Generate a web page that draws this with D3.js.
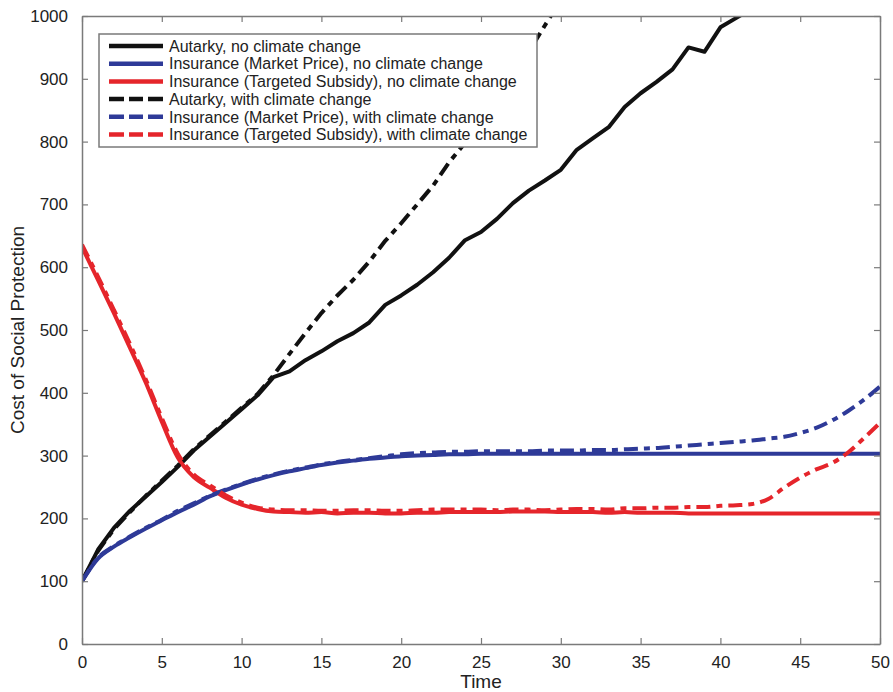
<!DOCTYPE html>
<html>
<head>
<meta charset="utf-8">
<script src="https://cdn.jsdelivr.net/npm/d3@7"></script>
<style>
  body { margin: 0; background: #fff; }
  svg { display: block; font-family: "Liberation Sans", Arial, Helvetica, sans-serif; }
</style>
</head>
<body>
<svg id="chart" width="893" height="692"></svg>
<script>
// ---- data ----
const time = d3.range(0, 51);

const autarkyNoCC = [100,150,185,212,235,258,282,308,330,352,374,396,425,434,452,466,482,495,512,540,555,572,592,615,643,656,677,702,722,738,755,787,805,823,855,877,895,915,950,943,982,997,1012,1030,1050,1070,1090,1110,1130,1150,1170];
const autarkyCC   = [100,148,183,210,236,260,284,310,332,354,376,398,428,462,495,527,555,580,609,642,670,700,730,767,798,830,864,900,943,985,1025,1060,1100,1140,1180,1220,1260,1300,1340,1380,1420,1460,1500,1540,1580,1620,1660,1700,1740,1780,1820];
const insMarketNoCC = [100,136,155,170,184,197,210,222,235,245,254,262,269,275,280,285,289,292,295,297,299,300,301,302,302,303,303,303,303,303,303,303,303,303,303,303,303,303,303,303,303,303,303,303,303,303,303,303,303,303,303];
const insMarketCC   = [100,137,156,171,185,198,212,224,236,246,255,263,270,276,281,286,290,293,296,299,302,304,305,306,306,307,307,307,307,308,308,308,309,309,310,311,312,314,316,318,320,322,324,327,330,336,344,356,371,389,410];
const subsidyNoCC = [632,580,527,472,416,354,297,266,249,233,222,215,211,210,209,210,208,209,209,208,208,209,209,210,210,210,210,211,211,211,210,210,210,209,210,209,209,209,208,208,208,208,208,208,208,208,208,208,208,208,208];
const subsidyCC   = [636,585,532,478,421,360,303,270,253,237,225,217,214,213,213,212,212,213,213,212,212,213,214,214,214,214,213,214,214,213,214,215,215,214,216,216,217,217,218,218,220,221,223,231,249,265,278,288,305,328,352];

const seriesNames = [
  "Autarky, no climate change",
  "Insurance (Market Price), no climate change",
  "Insurance (Targeted Subsidy), no climate change",
  "Autarky, with climate change",
  "Insurance (Market Price), with climate change",
  "Insurance (Targeted Subsidy), with climate change"
];
const seriesValues = [autarkyNoCC, insMarketNoCC, subsidyNoCC, autarkyCC, insMarketCC, subsidyCC];
const seriesColors = ["#111111", "#2e3a98", "#e5252b", "#111111", "#2e3a98", "#e5252b"];
const seriesDashed = [false, false, false, true, true, true];

const xTicks = d3.range(0, 51, 5);
const yTicks = d3.range(0, 1001, 100);

// ---- layout ----
(function () {
const svg = d3.select("#chart");
const pl = 82, pr = 880, pt = 16, pb = 644;
const x = d3.scaleLinear().domain([0, 50]).range([pl, pr]);
const y = d3.scaleLinear().domain([0, 1000]).range([pb, pt]);

const axisColor = "#7a7a7a";
const dash = "14,6,6,6";

svg.append("clipPath").attr("id", "clip")
  .append("rect").attr("x", pl).attr("y", pt).attr("width", pr - pl).attr("height", pb - pt);

const lineLinear = d3.line().x((d, i) => x(time[i])).y(d => y(d));
const lineSmooth = d3.line().x((d, i) => x(time[i])).y(d => y(d)).curve(d3.curveMonotoneX);
const g = svg.append("g").attr("clip-path", "url(#clip)");
seriesValues.forEach((vals, i) => {
  const isBlack = (i === 0 || i === 3);
  g.append("path")
    .datum(vals)
    .attr("d", isBlack ? lineLinear : lineSmooth)
    .attr("fill", "none")
    .attr("stroke", seriesColors[i])
    .attr("stroke-width", 4)
    .attr("stroke-linejoin", "round")
    .attr("stroke-dasharray", seriesDashed[i] ? dash : null);
});

const tickLen = 6;
const axFont = 17;
const fmt = d3.format("d");
const bottomAxis = d3.axisBottom(x).tickValues(xTicks).tickFormat(fmt).tickSizeInner(-tickLen).tickSizeOuter(0).tickPadding(12);
const leftAxis = d3.axisLeft(y).tickValues(yTicks).tickFormat(fmt).tickSizeInner(-tickLen).tickSizeOuter(0).tickPadding(14);
const topAxis = d3.axisTop(x).tickValues(xTicks).tickSizeInner(-tickLen).tickSizeOuter(0).tickFormat("");
const rightAxis = d3.axisRight(y).tickValues(yTicks).tickSizeInner(-tickLen).tickSizeOuter(0).tickFormat("");

function styleAxis(sel) {
  sel.select(".domain").attr("stroke", axisColor).attr("stroke-width", 1.5);
  sel.selectAll(".tick line").attr("stroke", axisColor).attr("stroke-width", 1.2);
  sel.selectAll(".tick text").attr("fill", "#222").style("font-size", axFont + "px")
    .style("font-family", "'Liberation Sans', Arial, sans-serif");
}
svg.append("g").attr("transform", `translate(0,${pb})`).call(bottomAxis).call(styleAxis);
svg.append("g").attr("transform", `translate(${pl},0)`).call(leftAxis).call(styleAxis);
svg.append("g").attr("transform", `translate(0,${pt})`).call(topAxis).call(styleAxis);
svg.append("g").attr("transform", `translate(${pr},0)`).call(rightAxis).call(styleAxis);

svg.append("text").attr("x", (pl + pr) / 2).attr("y", 688)
  .attr("text-anchor", "middle").attr("fill", "#222").style("font-size", "19px").text("Time");
svg.append("text").attr("transform", `translate(24,${(pt + pb) / 2}) rotate(-90)`)
  .attr("text-anchor", "middle").attr("fill", "#222").style("font-size", "19px").text("Cost of Social Protection");

const lg = svg.append("g");
const lgX = 99, lgY = 34, lgW = 438, lgH = 113;
lg.append("rect").attr("x", lgX).attr("y", lgY).attr("width", lgW).attr("height", lgH)
  .attr("fill", "#fff").attr("stroke", axisColor).attr("stroke-width", 1.5);
seriesNames.forEach((name, i) => {
  const cy = 46 + i * 17.7;
  lg.append("line").attr("x1", 109).attr("x2", 163).attr("y1", cy).attr("y2", cy)
    .attr("stroke", seriesColors[i]).attr("stroke-width", 4.5)
    .attr("stroke-dasharray", seriesDashed[i] ? "15,5,14,5,15" : null);
  lg.append("text").attr("x", 169).attr("y", cy).attr("dy", "0.36em")
    .attr("fill", "#222").style("font-size", "16px").text(name);
});
})();
</script>
</body>
</html>
